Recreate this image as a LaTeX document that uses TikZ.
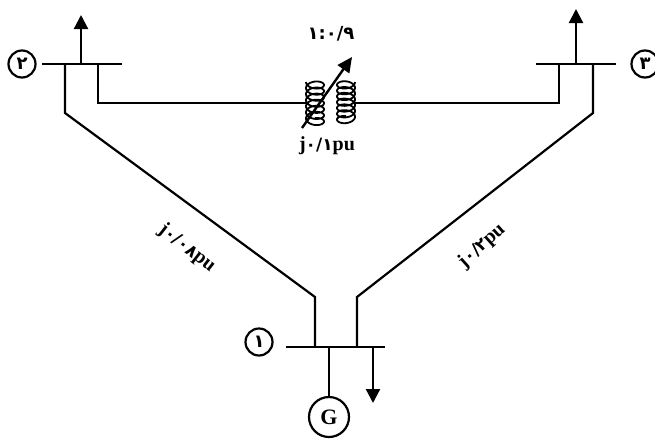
\documentclass[tikz,border=0pt]{standalone}
\usepackage{fontspec}
\setmainfont{Liberation Serif}
\newfontfamily\fa{DejaVu Sans}
\usetikzlibrary{arrows.meta}
\tikzset{
  wire/.style={line width=2.2pt,black,line join=miter},
  coilline/.style={line width=1.8pt,black},
  loadarrow/.style={wire,-{Triangle[length=14pt,width=14pt]}},
  ratioarrow/.style={line width=2.4pt,black,-{Triangle[length=15pt,width=14pt]}},
  busno/.style={circle,draw=black,line width=2.2pt,minimum size=27pt,inner sep=0pt},
  gen/.style={circle,draw=black,line width=2.2pt,minimum size=40pt,inner sep=0pt,font=\bfseries\fontsize{22}{22}\selectfont},
  lbl/.style={inner sep=0pt,font=\bfseries\fontsize{20}{20}\selectfont},
  lblb/.style={inner sep=0pt,font=\bfseries\fontsize{20}{20}\selectfont}
}
\newcommand{\fdg}[2]{{\fa\bfseries\fontsize{#1}{#1}\selectfont #2}}
\begin{document}
\begin{tikzpicture}[x=1pt,y=-1pt]
\useasboundingbox (0,0) rectangle (655,439);
% buses
\coordinate (b2l) at (42,64);  \coordinate (b2r) at (122,64);
\coordinate (b3l) at (536,64); \coordinate (b3r) at (616,64);
\coordinate (b1l) at (286,347);\coordinate (b1r) at (385,347);
\draw[wire] (b2l) -- (b2r);
\draw[wire] (b3l) -- (b3r);
\draw[wire] (b1l) -- (b1r);
% numbered circles and generator
\node[busno] (n2) at (22,64) {\fdg{18}{۲}};
\node[busno] (n3) at (645,64) {\fdg{18}{۳}};
\node[busno] (n1) at (259,342) {\fdg{18}{۱}};
\node[gen] (G) at (329,417) {G};
% lines between buses
\coordinate (s2a) at (65,64);  \coordinate (k2a) at (65,113);
\coordinate (s1a) at (315,347);\coordinate (k1a) at (315,297);
\coordinate (s3a) at (593,64); \coordinate (k3a) at (593,113);
\coordinate (s1b) at (357,347);\coordinate (k1b) at (357,297);
\draw[wire] (s2a) -- (k2a) -- (k1a) -- (s1a);
\draw[wire] (s3a) -- (k3a) -- (k1b) -- (s1b);
% transformer branch
\coordinate (s2b) at (98,64);  \coordinate (k2b) at (98,103);
\coordinate (tl) at (307,103);
\coordinate (s3b) at (559,64); \coordinate (k3b) at (559,103);
\coordinate (tr) at (354,103);
\draw[wire] (s2b) -- (k2b) -- (tl);
\draw[wire] (s3b) -- (k3b) -- (tr);
% coils
\draw[coilline,smooth] plot[domain=0:2430,samples=240] ({315+9*sin(\x-90)},{82+\x/2430*41+5*cos(\x-90)});
\draw[coilline,smooth] plot[domain=0:2430,samples=240] ({346-9*sin(\x-90)},{82+\x/2430*39+5*cos(\x-90)});
% ratio arrow
\coordinate (ra) at (302,128); \coordinate (rb) at (352,57);
\draw[ratioarrow] (ra) -- (rb);
% loads
\coordinate (l2a) at (81,64);  \coordinate (l2b) at (81,15);
\coordinate (l3a) at (576,64); \coordinate (l3b) at (576,9);
\coordinate (l1a) at (373,347);\coordinate (l1b) at (373,403);
\draw[loadarrow] (l2a) -- (l2b);
\draw[loadarrow] (l3a) -- (l3b);
\draw[loadarrow] (l1a) -- (l1b);
% generator tie
\coordinate (s1g) at (329,347);
\draw[wire] (s1g) -- (G);
% labels
\node[lbl] (ratio) at (331,34) {\fdg{18}{۱:۰/۹}};
\node[lbl] (xt) at (327,146) {j\fdg{17}{۰/۱}pu};
\node[lblb,rotate=-38] (x12) at (187,248) {j\fdg{17}{۰/۰۸}pu};
\node[lblb,rotate=42] (x13) at (482,246) {j\fdg{17}{۰/۲}pu};
\end{tikzpicture}
\end{document}
